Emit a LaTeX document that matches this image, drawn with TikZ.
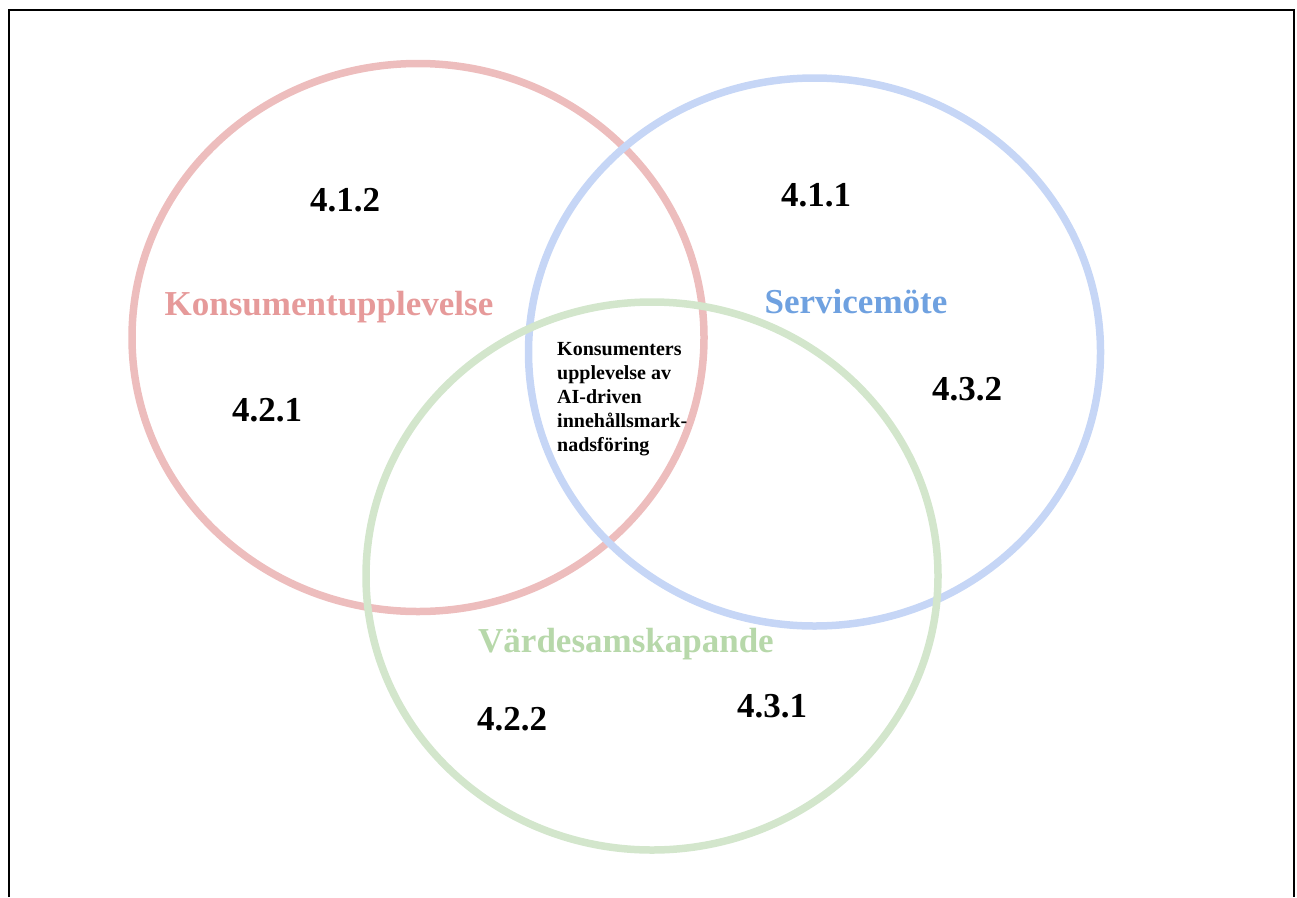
\documentclass[tikz,border=0pt]{standalone}
\usepackage{fontspec}
\setmainfont{Liberation Serif}
\usepackage{xcolor}
\usepackage{tikz}
\usetikzlibrary{shapes.geometric}

\definecolor{ringred}{HTML}{EDBDBD}
\definecolor{ringblue}{HTML}{C6D6F6}
\definecolor{ringgreen}{HTML}{D3E6CC}
\definecolor{textred}{HTML}{E69A9A}
\definecolor{textblue}{HTML}{6FA1E0}
\definecolor{textgreen}{HTML}{B7D8AA}

\begin{document}
\begin{tikzpicture}[x=1pt, y=-1pt,
ring/.style={draw, ellipse, line width=7.5pt, minimum width=572pt, minimum height=548pt, inner sep=0pt},
num/.style={font=\bfseries\fontsize{35}{42}\selectfont, inner sep=0pt, anchor=base},
theme/.style={font=\bfseries\fontsize{35}{42}\selectfont, inner sep=0pt, anchor=base},
core/.style={font=\bfseries\fontsize{20}{24}\selectfont, align=left, inner sep=0pt, anchor=base west}
]
\useasboundingbox (0,0) rectangle (1297,897);
\draw[line width=2pt] (9,897) -- (9,10) -- (1294,10) -- (1294,897);

% the three circles
\node[ring, draw=ringred] (konsument) at (418,337.5) {};
\node[ring, draw=ringblue] (service) at (814.5,352) {};
\node[ring, draw=ringgreen] (varde) at (652,576) {};

% circle titles
\node[theme, text=textred] (konsumentlabel) at (329,315) {Konsumentupplevelse};
\node[theme, text=textblue] (servicelabel) at (856,313) {Servicemöte};
\node[theme, text=textgreen] (vardelabel) at (626,652) {Värdesamskapande};

% section numbers
\node[num] (s412) at (345,211) {4.1.2};
\node[num] (s411) at (816,206) {4.1.1};
\node[num] (s421) at (267,421) {4.2.1};
\node[num] (s432) at (967,400) {4.3.2};
\node[num] (s422) at (512,730) {4.2.2};
\node[num] (s431) at (772,717) {4.3.1};

% overlap in the middle
\node[core] (center) at (557,451) {Konsumenters\\upplevelse av\\AI-driven\\innehållsmark-\\nadsföring};
\end{tikzpicture}
\end{document}
